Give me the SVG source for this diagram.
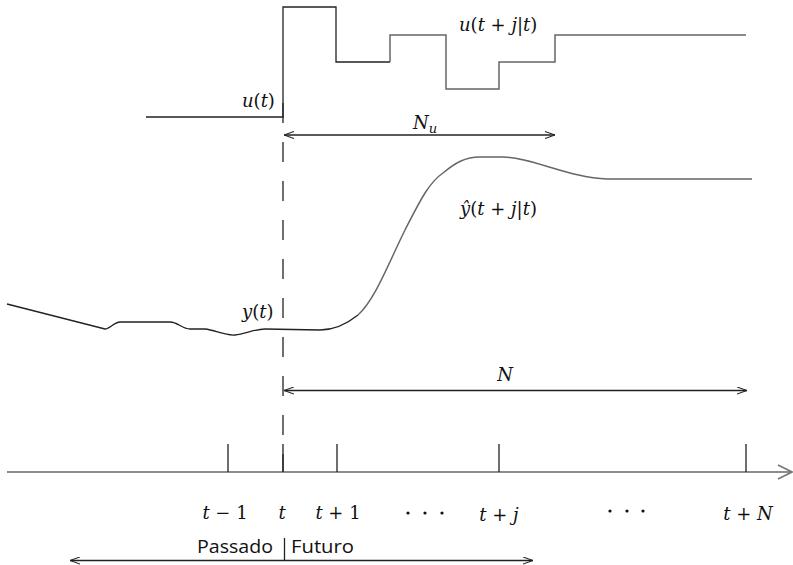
<svg xmlns="http://www.w3.org/2000/svg" width="793" height="565" viewBox="0 0 793 565">
<style>
.ln{fill:none;stroke:#222;stroke-width:1.3}
.gr{fill:none;stroke:#666;stroke-width:1.5}
.m{font-family:"DejaVu Serif","Liberation Serif",serif;font-size:18px;fill:#111}
.i{font-style:italic}
.s{font-family:"Open Sans","Noto Sans",sans-serif;font-size:19px;fill:#111}
</style>
<defs>
<marker id="ah" viewBox="0 0 10 8" refX="10" refY="4" markerWidth="10" markerHeight="8" markerUnits="userSpaceOnUse" orient="auto-start-reverse">
<path d="M0,0.5 L10,4 L0,7.5" fill="none" stroke="#222" stroke-width="1.1"/>
</marker>
<marker id="ax" viewBox="0 0 16 16" refX="15" refY="8" markerWidth="16" markerHeight="16" markerUnits="userSpaceOnUse" orient="auto">
<path d="M1,1 L15,8 L1,15" fill="none" stroke="#777" stroke-width="1.6"/>
</marker>
</defs>
<g id="input-signal">
<path class="ln" d="M146,117 H283 V7 H336 V62 H390"/>
<path class="gr" d="M390,62 V35 H446 V89 H499 V62 H555 V35 H746"/>
<text class="m" x="242" y="107"><tspan class="i">u</tspan>(<tspan class="i">t</tspan>)</text>
<text class="m" x="459" y="31"><tspan class="i">u</tspan>(<tspan class="i">t</tspan> + <tspan class="i">j</tspan>|<tspan class="i">t</tspan>)</text>
</g>
<g id="output-signal">
<path class="ln" d="M7,304 L105,329 C110,329 114,322 120,322 L170,322 C178,322 182,329 190,329 L205,329 C215,330 225,336 235,335 C245,334 255,329 265,329 L320,330 C335,330 348,323 358,315"/>
<path class="gr" d="M358,315 C375,300 390,260 405,230 C418,205 428,183 443,173 C455,163 465,157 480,157 L503,157 C530,157 570,178 607,179 L752,179"/>
<text class="m" x="242" y="318"><tspan class="i">y</tspan>(<tspan class="i">t</tspan>)</text>
<text class="m" x="460" y="215"><tspan class="i">ŷ</tspan>(<tspan class="i">t</tspan> + <tspan class="i">j</tspan>|<tspan class="i">t</tspan>)</text>
</g>
<g id="connectors">
<line class="ln" x1="283" y1="103" x2="283" y2="472" stroke-dasharray="20 19"/>
<line class="ln" x1="284" y1="135" x2="555" y2="135" marker-start="url(#ah)" marker-end="url(#ah)"/>
<line class="ln" x1="284" y1="390.5" x2="747" y2="390.5" marker-start="url(#ah)" marker-end="url(#ah)"/>
<line class="ln" x1="70" y1="560.5" x2="533" y2="560.5" marker-start="url(#ah)" marker-end="url(#ah)"/>
<line x1="7" y1="472" x2="792" y2="472" stroke="#666" stroke-width="1.6" marker-end="url(#ax)"/>
</g>
<g id="horizons">
<text class="m" x="413" y="129"><tspan class="i">N</tspan><tspan class="i" font-size="13" dy="4">u</tspan></text>
<text class="m i" x="505" y="381" text-anchor="middle">N</text>
</g>
<g id="time-axis">
<path class="ln" d="M228,444 V472 M283,444 V472 M337,444 V472 M499,444 V472 M746,444 V472"/>
<text class="m" x="225" y="519" text-anchor="middle"><tspan class="i">t</tspan> − 1</text>
<text class="m i" x="282" y="519" text-anchor="middle">t</text>
<text class="m" x="338" y="519" text-anchor="middle"><tspan class="i">t</tspan> + 1</text>
<text class="m" x="499" y="521" text-anchor="middle"><tspan class="i">t</tspan> + <tspan class="i">j</tspan></text>
<text class="m" x="748" y="520" text-anchor="middle"><tspan class="i">t</tspan> + <tspan class="i">N</tspan></text>
<g fill="#111"><circle cx="408" cy="513" r="1.6"/><circle cx="425" cy="513" r="1.6"/><circle cx="442" cy="513" r="1.6"/><circle cx="610" cy="511" r="1.6"/><circle cx="627" cy="511" r="1.6"/><circle cx="643" cy="511" r="1.6"/></g>
</g>
<g id="past-future">
<text class="s" x="197" y="553" textLength="76" lengthAdjust="spacingAndGlyphs">Passado</text>
<line class="ln" x1="284.5" y1="538" x2="284.5" y2="561"/>
<text class="s" x="291" y="553" textLength="63" lengthAdjust="spacingAndGlyphs">Futuro</text>
</g>
</svg>
